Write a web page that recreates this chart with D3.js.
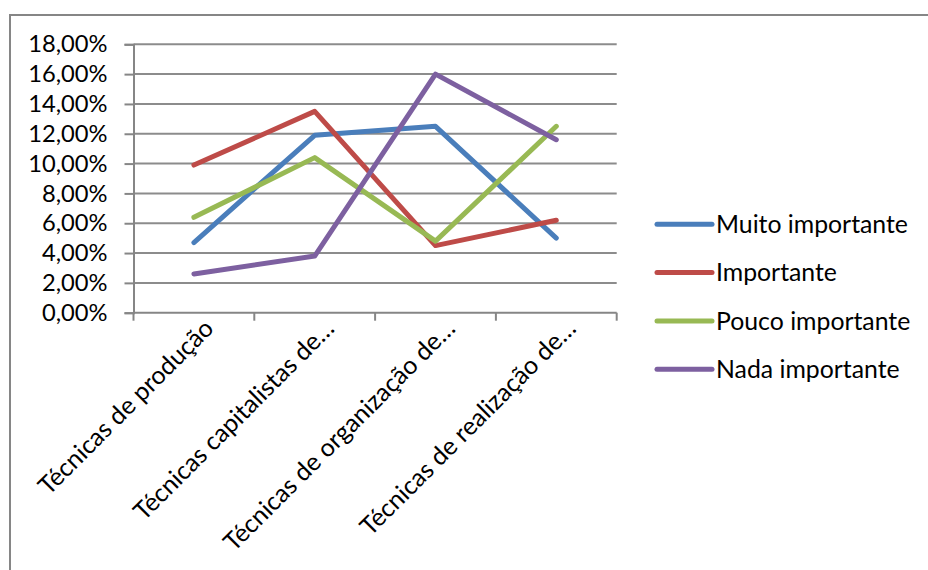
<!DOCTYPE html>
<html>
<head>
<meta charset="utf-8">
<script src="https://cdn.jsdelivr.net/npm/d3@7"></script>
<style>
  html, body { margin: 0; padding: 0; background: #fff; }
  svg { display: block; }
  text { font-family: Lato, "Open Sans", sans-serif; fill: #000; }
</style>
</head>
<body>
<svg id="chart" width="928" height="570"></svg>
<script>
// Categories along the x axis
const categories = [
  "Técnicas de produção",
  "Técnicas capitalistas de…",
  "Técnicas de organização de…",
  "Técnicas de realização de…"
];

// Series names (legend order)
const seriesNames = ["Muito importante", "Importante", "Pouco importante", "Nada importante"];

// Values per series, in percent
const muitoImportante = [4.7, 11.9, 12.5, 5.0];
const importante      = [9.9, 13.5, 4.5, 6.2];
const poucoImportante = [6.4, 10.4, 4.8, 12.5];
const nadaImportante  = [2.6, 3.8, 16.0, 11.6];

// Y axis ticks, in percent
const yTicks = [0, 2, 4, 6, 8, 10, 12, 14, 16, 18];

const seriesColors = ["#4A7EBB", "#BE4B48", "#98B954", "#7D60A0"];
const seriesValues = [muitoImportante, importante, poucoImportante, nadaImportante];

const series = seriesNames.map((name, i) => ({
  name, color: seriesColors[i],
  values: seriesValues[i].map((v, j) => ({ cat: categories[j], v }))
}));

const svg = d3.select("#chart");

// Outer chart frame
svg.append("rect")
  .attr("x", 10).attr("y", 15)
  .attr("width", 940).attr("height", 600)
  .attr("fill", "none").attr("stroke", "#868686").attr("stroke-width", 2);

const plot = { left: 133.5, right: 616.7, top: 44.3, bottom: 312.7 };

const x = d3.scaleBand().domain(categories).range([plot.left, plot.right]);
const y = d3.scaleLinear().domain([0, 18]).range([plot.bottom, plot.top]);

const fmt = v => d3.format(".2f")(v).replace(".", ",") + "%";

// Horizontal gridlines
svg.append("g")
  .selectAll("line").data(yTicks.filter(t => t > 0)).join("line")
  .attr("x1", plot.left).attr("x2", plot.right)
  .attr("y1", d => y(d)).attr("y2", d => y(d))
  .attr("stroke", "#8c8c8c").attr("stroke-width", 2);

// Y axis
const yAxis = svg.append("g")
  .attr("transform", `translate(${plot.left},0)`)
  .call(d3.axisLeft(y).tickValues(yTicks).tickFormat(fmt).tickSize(9).tickPadding(17));
yAxis.select(".domain").attr("stroke", "#868686").attr("stroke-width", 2);
yAxis.selectAll(".tick line").attr("stroke", "#868686").attr("stroke-width", 2);
yAxis.selectAll(".tick text")
  .attr("font-family", "Lato, sans-serif").attr("font-size", 23.7).attr("fill", "#000");

// X axis with ticks at band boundaries
const boundaries = categories.map(c => x(c)).concat([plot.right]);
const xAxisG = svg.append("g");
xAxisG.append("line")
  .attr("x1", plot.left).attr("x2", plot.right)
  .attr("y1", plot.bottom).attr("y2", plot.bottom)
  .attr("stroke", "#868686").attr("stroke-width", 2);
xAxisG.selectAll("line.tk").data(boundaries).join("line")
  .attr("class", "tk")
  .attr("x1", d => d).attr("x2", d => d)
  .attr("y1", plot.bottom).attr("y2", plot.bottom + 8)
  .attr("stroke", "#868686").attr("stroke-width", 2);

// Rotated category labels
xAxisG.selectAll("text").data(categories).join("text")
  .attr("transform", d => `translate(${x(d) + x.bandwidth() / 2 + 15},${plot.bottom + 11}) rotate(-45)`)
  .attr("text-anchor", "end")
  .attr("dy", "0.35em")
  .attr("font-size", 25)
  .text(d => d);

// Series lines
const line = d3.line()
  .x(d => x(d.cat) + x.bandwidth() / 2)
  .y(d => y(d.v));

svg.append("g").selectAll("path").data(series).join("path")
  .attr("d", d => line(d.values))
  .attr("fill", "none")
  .attr("stroke", d => d.color)
  .attr("stroke-width", 5)
  .attr("stroke-linecap", "round")
  .attr("stroke-linejoin", "round");

// Legend
const legend = svg.append("g").selectAll("g").data(series).join("g")
  .attr("transform", (d, i) => `translate(657,${224.3 + i * 48.3})`);
legend.append("line")
  .attr("x1", 0).attr("x2", 55)
  .attr("stroke", d => d.color).attr("stroke-width", 5).attr("stroke-linecap", "round");
legend.append("text")
  .attr("x", 59).attr("dy", "0.35em")
  .attr("font-size", 24.8)
  .text(d => d.name);
</script>
</body>
</html>
